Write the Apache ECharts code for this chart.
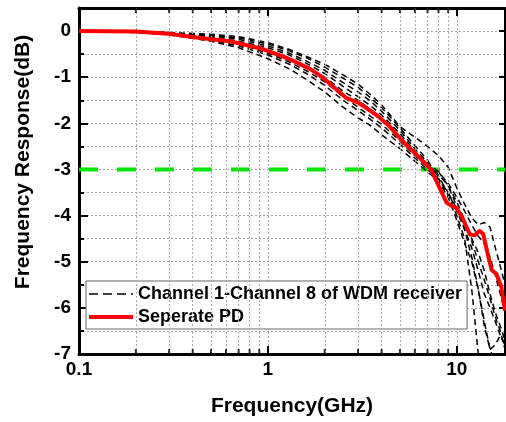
<!DOCTYPE html>
<html><head><meta charset="utf-8">
<script src="https://cdn.jsdelivr.net/npm/echarts@6/dist/echarts.min.js"></script>
<style>html,body{margin:0;padding:0;background:#fff}#c{width:506px;height:422px}</style>
</head><body><div id="c"></div>
<script>
// ---- data (GHz, dB) ----
const freq = [0.1, 0.2, 0.3, 0.5, 0.7, 1, 1.3, 1.6, 2, 2.5, 3, 3.5, 4, 5, 6, 7, 8, 9, 10, 11, 12, 13, 14, 15, 16, 17, 18];
const ch1 = [0, -0.01, -0.03, -0.07, -0.12, -0.25, -0.40, -0.55, -0.72, -0.95, -1.15, -1.38, -1.60, -2.07, -2.30, -2.50, -2.70, -2.95, -3.40, -3.75, -4.05, -4.20, -4.15, -4.25, -4.70, -5.10, -5.50];
const ch2 = [0, -0.01, -0.04, -0.10, -0.18, -0.32, -0.48, -0.65, -0.85, -1.12, -1.32, -1.52, -1.74, -2.15, -2.55, -2.85, -3.05, -3.30, -3.60, -3.90, -4.20, -4.45, -4.60, -4.90, -5.30, -5.70, -6.10];
const ch3 = [0, -0.02, -0.05, -0.15, -0.25, -0.42, -0.60, -0.78, -1.00, -1.30, -1.50, -1.70, -1.90, -2.30, -2.62, -2.90, -3.15, -3.50, -3.90, -4.30, -4.70, -5.20, -5.70, -6.00, -6.30, -6.60, -6.80];
const ch4 = [0, -0.03, -0.07, -0.20, -0.32, -0.52, -0.72, -0.92, -1.18, -1.50, -1.72, -1.92, -2.10, -2.45, -2.75, -3.00, -3.20, -3.55, -4.00, -4.50, -5.60, -7.00, -7.40, -7.60, -7.80, -7.90, -8.00];
const ch5 = [0, -0.03, -0.08, -0.22, -0.36, -0.60, -0.82, -1.05, -1.32, -1.65, -1.88, -2.05, -2.25, -2.55, -2.82, -3.05, -3.25, -3.60, -4.10, -4.60, -5.00, -5.60, -6.40, -6.90, -6.80, -6.60, -6.80];
const ch6 = [0, -0.02, -0.05, -0.13, -0.22, -0.36, -0.52, -0.70, -0.92, -1.20, -1.42, -1.62, -1.82, -2.22, -2.60, -2.90, -3.10, -3.35, -3.70, -4.10, -4.55, -5.00, -5.40, -5.80, -6.20, -6.50, -6.90];
const ch7 = [0, -0.02, -0.06, -0.17, -0.28, -0.48, -0.67, -0.86, -1.10, -1.42, -1.65, -1.85, -2.02, -2.38, -2.70, -2.95, -3.05, -3.35, -3.80, -4.30, -4.90, -5.60, -6.30, -6.90, -7.20, -7.40, -7.60];
const ch8 = [0, -0.01, -0.04, -0.09, -0.15, -0.28, -0.43, -0.58, -0.78, -1.02, -1.22, -1.45, -1.66, -2.10, -2.48, -2.80, -3.20, -3.50, -3.85, -4.20, -4.50, -4.80, -5.20, -5.70, -6.10, -6.40, -6.70];
const channels = [ch1, ch2, ch3, ch4, ch5, ch6, ch7, ch8];

const pdFreq = [0.1, 0.2, 0.24, 0.3, 0.44, 0.63, 0.94, 1.2, 1.42, 1.67, 1.88, 2.13, 2.6, 3.07, 3.76, 4.42, 5.2, 6.12, 6.92, 7.3, 7.96, 8.83, 9.38, 9.96, 10.8, 11.7, 12.4, 13.2, 13.8, 14.7, 15.3, 16.2, 17.2, 18];
const pdVal  = [0, -0.01, -0.03, -0.06, -0.15, -0.22, -0.39, -0.55, -0.68, -0.82, -0.96, -1.14, -1.45, -1.57, -1.82, -2.07, -2.40, -2.68, -2.90, -3.00, -3.33, -3.72, -3.79, -3.83, -4.08, -4.40, -4.43, -4.33, -4.40, -4.90, -5.18, -5.26, -5.54, -6.06];

const level3dB = -3;
const xMajor = [0.1, 1, 10];
const xMinor = [0.2, 0.3, 0.4, 0.5, 0.6, 0.7, 0.8, 0.9, 2, 3, 4, 5, 6, 7, 8, 9];
const X_MIN = 0.1, X_MAX = 18, Y_MIN = -7, Y_MAX = 0.5;
const nameCh = 'Channel 1-Channel 8 of WDM receiver';
const namePD = 'Seperate PD';

// ---- chart ----
const FONT = '"Liberation Sans", Arial, sans-serif';
const chart = echarts.init(document.getElementById('c'), null, {renderer: 'canvas'});
const gridLine = {color: '#a8a8a8', width: 1, type: [2, 2]};

const series = [];
series.push({
  type: 'line', name: '3dB', data: [[X_MIN, level3dB], [X_MAX, level3dB]],
  symbol: 'none', silent: true, z: 2,
  lineStyle: {color: '#00e600', width: 4, type: [19, 19]},
  markLine: {
    silent: true, symbol: 'none', label: {show: false}, animation: false,
    lineStyle: gridLine,
    data: xMinor.map(v => ({xAxis: v}))
  }
});
channels.forEach((c) => {
  series.push({
    type: 'line', name: nameCh, data: freq.map((f, i) => [f, c[i]]),
    symbol: 'none', showSymbol: false, z: 3,
    itemStyle: {color: '#000'},
    lineStyle: {color: '#000', width: 1.5, type: [6, 4]}
  });
});
series.push({
  type: 'line', name: namePD, data: pdFreq.map((f, i) => [f, pdVal[i]]),
  symbol: 'none', showSymbol: false, z: 5,
  itemStyle: {color: '#ff0000'},
  lineStyle: {color: '#ff0000', width: 4}
});
// minor x ticks (inside) bottom and top
series.push({
  type: 'scatter', data: xMinor.map(v => [v, Y_MIN]), symbol: 'rect',
  symbolSize: [2, 5], symbolOffset: [0, -2.5], itemStyle: {color: '#000'},
  silent: true, clip: false, z: 6
});
series.push({
  type: 'scatter', data: xMinor.map(v => [v, Y_MAX]), symbol: 'rect',
  symbolSize: [2, 5], symbolOffset: [0, 2.5], itemStyle: {color: '#000'},
  silent: true, clip: false, z: 6
});

const lblFmtX = v => { const r = +(+v).toPrecision(3); return xMajor.includes(r) ? String(r) : ''; };

chart.setOption({
  animation: false,
  backgroundColor: '#fff',
  grid: {left: 79, right: 1, top: 8, bottom: 65, containLabel: false},
  legend: {
    orient: 'vertical', left: 86, top: 281,
    data: [
      {name: nameCh, lineStyle: {width: 1.6, type: [9, 5], color: '#000'}},
      {name: namePD, lineStyle: {width: 4, color: '#ff0000'}}
    ],
    itemWidth: 44, itemHeight: 14, itemGap: 5,
    padding: [4, 5, 3, 1],
    borderColor: '#666', borderWidth: 1, borderRadius: 0,
    backgroundColor: '#fff',
    itemStyle: {opacity: 0},
    textStyle: {fontFamily: FONT, fontWeight: 'bold', fontSize: 18, color: '#000'},
    selectedMode: false
  },
  xAxis: [{
    type: 'log', logBase: 10, min: X_MIN, max: X_MAX, position: 'bottom',
    axisLine: {onZero: false, lineStyle: {color: '#000', width: 3}},
    axisTick: {inside: true, length: 8, lineStyle: {color: '#000', width: 2}},
    axisLabel: {formatter: lblFmtX, showMaxLabel: false, margin: 6,
      fontFamily: FONT, fontWeight: 'bold', fontSize: 19, color: '#000'},
    splitLine: {show: true, lineStyle: gridLine},
    name: 'Frequency(GHz)', nameLocation: 'middle', nameGap: 42,
    nameTextStyle: {fontFamily: FONT, fontWeight: 'bold', fontSize: 21, color: '#000'}
  }, {
    type: 'log', logBase: 10, min: X_MIN, max: X_MAX, position: 'top',
    axisLine: {onZero: false, lineStyle: {color: '#000', width: 3}},
    axisTick: {inside: true, length: 8, lineStyle: {color: '#000', width: 2}},
    axisLabel: {show: false}, splitLine: {show: false}
  }],
  yAxis: [{
    type: 'value', min: Y_MIN, max: Y_MAX, interval: 0.5, position: 'left',
    axisLine: {onZero: false, lineStyle: {color: '#000', width: 3}},
    axisTick: {inside: true, length: 5, lineStyle: {color: '#000', width: 2}},
    axisLabel: {formatter: v => Number.isInteger(v) ? String(v) : '', showMaxLabel: false, margin: 8,
      fontFamily: FONT, fontWeight: 'bold', fontSize: 19, color: '#000'},
    splitLine: {show: true, lineStyle: gridLine},
    name: 'Frequency Response(dB)', nameLocation: 'middle', nameGap: 45,
    nameTextStyle: {fontFamily: FONT, fontWeight: 'bold', fontSize: 21, color: '#000', padding: [0, 0, 0, 38]}
  }, {
    type: 'value', min: Y_MIN, max: Y_MAX, interval: 1, position: 'right',
    axisLine: {onZero: false, lineStyle: {color: '#000', width: 2}},
    axisTick: {inside: true, length: 6, lineStyle: {color: '#000', width: 2}},
    axisLabel: {show: false}, splitLine: {show: false}
  }, {
    type: 'value', min: Y_MIN, max: Y_MAX, interval: 1, position: 'left',
    axisLine: {show: false},
    axisTick: {inside: true, length: 9, lineStyle: {color: '#000', width: 2}},
    axisLabel: {show: false}, splitLine: {show: false}
  }],
  series: series
});
</script></body></html>
